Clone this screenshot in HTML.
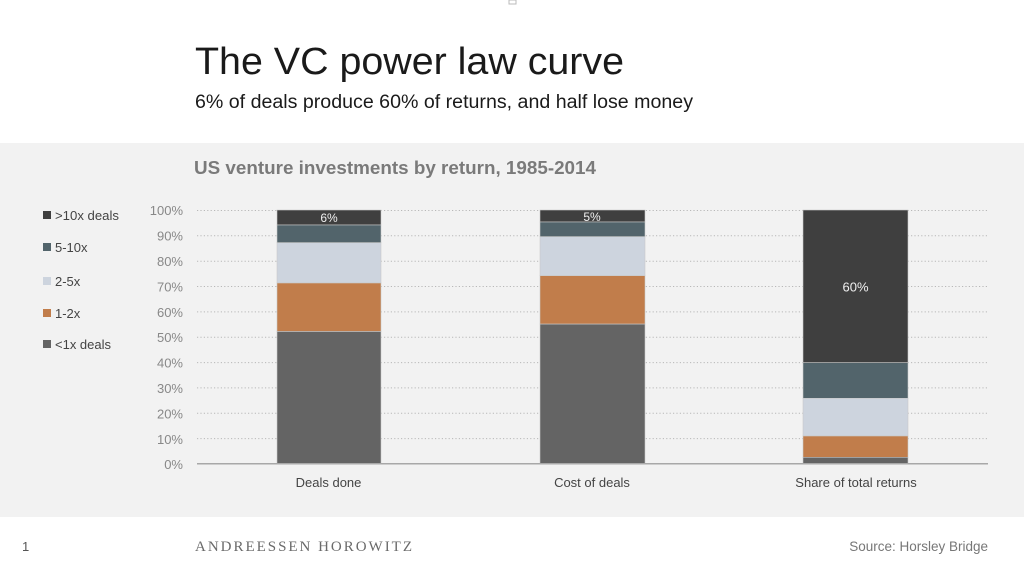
<!DOCTYPE html>
<html><head><meta charset="utf-8"><style>
html,body{margin:0;padding:0;background:#fff;}
svg{display:block;}
text{font-family:"Liberation Sans",sans-serif;}
</style></head><body>
<svg width="1024" height="569" viewBox="0 0 1024 569" xmlns="http://www.w3.org/2000/svg">
<rect x="0" y="0" width="1024" height="569" fill="#ffffff"/>
<rect x="509" y="0" width="7" height="4" fill="none" stroke="#bbb" stroke-width="1"/>
<text x="195" y="74" font-size="38" fill="#1a1a1a" textLength="429" lengthAdjust="spacingAndGlyphs">The VC power law curve</text>
<text x="195" y="108" font-size="19" fill="#1a1a1a" textLength="498" lengthAdjust="spacingAndGlyphs">6% of deals produce 60% of returns, and half lose money</text>
<rect x="0" y="143" width="1024" height="374" fill="#f2f2f2"/>
<text x="194" y="174" font-size="18.5" font-weight="bold" fill="#7a7a7a" textLength="402" lengthAdjust="spacingAndGlyphs">US venture investments by return, 1985-2014</text>
<!-- legend -->
<g font-size="13" fill="#444">
<rect x="43" y="211" width="8" height="8" fill="#3f3f3f"/><text x="55" y="220" textLength="64" lengthAdjust="spacingAndGlyphs">&gt;10x deals</text>
<rect x="43" y="243" width="8" height="8" fill="#52646b"/><text x="55" y="252">5-10x</text>
<rect x="43" y="277" width="8" height="8" fill="#cdd4de"/><text x="55" y="286">2-5x</text>
<rect x="43" y="309" width="8" height="8" fill="#c17d4b"/><text x="55" y="318">1-2x</text>
<rect x="43" y="340" width="8" height="8" fill="#646464"/><text x="55" y="349">&lt;1x deals</text>
</g>
<!-- y ticks -->
<g font-size="13" fill="#888" text-anchor="end">
<text x="183" y="215">100%</text>
<text x="183" y="240.5">90%</text>
<text x="183" y="266">80%</text>
<text x="183" y="291.5">70%</text>
<text x="183" y="317">60%</text>
<text x="183" y="342">50%</text>
<text x="183" y="367.5">40%</text>
<text x="183" y="393">30%</text>
<text x="183" y="418.5">20%</text>
<text x="183" y="444">10%</text>
<text x="183" y="469">0%</text>
</g>
<!-- gridlines -->
<g stroke="#b8b8b8" stroke-width="1" stroke-dasharray="1.2,2.2">
<line x1="197" y1="210.5" x2="988" y2="210.5"/>
<line x1="197" y1="235.8" x2="988" y2="235.8"/>
<line x1="197" y1="261.2" x2="988" y2="261.2"/>
<line x1="197" y1="286.5" x2="988" y2="286.5"/>
<line x1="197" y1="311.9" x2="988" y2="311.9"/>
<line x1="197" y1="337.2" x2="988" y2="337.2"/>
<line x1="197" y1="362.6" x2="988" y2="362.6"/>
<line x1="197" y1="387.9" x2="988" y2="387.9"/>
<line x1="197" y1="413.3" x2="988" y2="413.3"/>
<line x1="197" y1="438.6" x2="988" y2="438.6"/>
</g>
<!-- bar 1 -->
<g stroke="#c8c8c8" stroke-width="0.6">
<rect x="277" y="210" width="104" height="15" fill="#3f3f3f"/>
<rect x="277" y="225" width="104" height="17.7" fill="#52646b"/>
<rect x="277" y="242.7" width="104" height="40.3" fill="#cdd4de"/>
<rect x="277" y="283" width="104" height="48.5" fill="#c17d4b"/>
<rect x="277" y="331.5" width="104" height="132" fill="#646464"/>
<!-- bar 2 -->
<rect x="540" y="210" width="105" height="12" fill="#3f3f3f"/>
<rect x="540" y="222" width="105" height="14.7" fill="#52646b"/>
<rect x="540" y="236.7" width="105" height="39" fill="#cdd4de"/>
<rect x="540" y="275.7" width="105" height="48.4" fill="#c17d4b"/>
<rect x="540" y="324.1" width="105" height="139.4" fill="#646464"/>
<!-- bar 3 -->
<rect x="803" y="210" width="105" height="152.7" fill="#3f3f3f"/>
<rect x="803" y="362.7" width="105" height="35.6" fill="#52646b"/>
<rect x="803" y="398.3" width="105" height="37.7" fill="#cdd4de"/>
<rect x="803" y="436" width="105" height="21.3" fill="#c17d4b"/>
<rect x="803" y="457.3" width="105" height="6.2" fill="#646464"/>
</g>
<line x1="197" y1="463.8" x2="988" y2="463.8" stroke="#a8a8a8" stroke-width="1.5"/>
<g font-size="12" fill="#f0f0f0" text-anchor="middle">
<text x="329" y="222">6%</text>
<text x="592" y="221">5%</text>
<text x="855.5" y="291.5" font-size="13">60%</text>
</g>
<g font-size="13" fill="#444" text-anchor="middle">
<text x="328.5" y="487">Deals done</text>
<text x="592" y="487">Cost of deals</text>
<text x="856" y="487">Share of total returns</text>
</g>
<!-- footer -->
<text x="22" y="551" font-size="13" fill="#555">1</text>
<text x="195" y="551" font-size="15" fill="#6a6a6a" font-family="Liberation Serif, serif" style="font-family:'Liberation Serif',serif" textLength="217" lengthAdjust="spacing">ANDREESSEN HOROWITZ</text>
<text x="988" y="551" font-size="13.5" fill="#777" text-anchor="end">Source: Horsley Bridge</text>
</svg>
</body></html>
